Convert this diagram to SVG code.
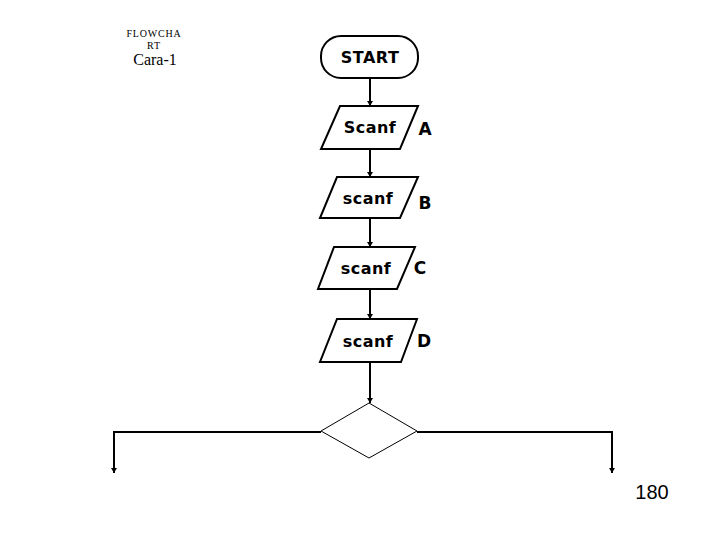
<svg xmlns="http://www.w3.org/2000/svg" width="720" height="540" viewBox="0 0 720 540">
<defs>
<style>
.shape{fill:#fff;stroke:#000;stroke-width:2}
.dia{fill:#fff;stroke:#000;stroke-width:1}
.conn{fill:none;stroke:#000;stroke-width:2}
.lbl{font-family:"DejaVu Sans",sans-serif;font-weight:bold;font-size:16px;fill:#000;text-anchor:middle;dominant-baseline:central;letter-spacing:0.5px}
.side{font-family:"DejaVu Sans",sans-serif;font-weight:bold;font-size:17px;fill:#000;text-anchor:middle;dominant-baseline:central}
.serif{font-family:"Liberation Serif",serif;fill:#000;text-anchor:middle}
</style>
<marker id="arr" markerWidth="6" markerHeight="6" refX="5" refY="3" orient="auto" markerUnits="userSpaceOnUse">
<path d="M0,0 L5,3 L0,6 z" fill="#000"/>
</marker>
</defs>
<rect width="720" height="540" fill="#fff"/>
<g id="title">
<text class="serif" x="154" y="37" font-size="10" letter-spacing="0.8">FLOWCHA</text>
<text class="serif" x="154" y="49" font-size="10" letter-spacing="0.8">RT</text>
<text class="serif" x="155" y="65" font-size="16">Cara-1</text>
</g>
<g id="connectors">
<line class="conn" x1="370" y1="78" x2="370" y2="106" marker-end="url(#arr)"/>
<line class="conn" x1="370" y1="149" x2="370" y2="177" marker-end="url(#arr)"/>
<line class="conn" x1="370" y1="218" x2="370" y2="247" marker-end="url(#arr)"/>
<line class="conn" x1="370" y1="289" x2="370" y2="319" marker-end="url(#arr)"/>
<line class="conn" x1="370" y1="362" x2="370" y2="403" marker-end="url(#arr)"/>
<polyline class="conn" points="321,432 114,432 114,473" marker-end="url(#arr)"/>
<polyline class="conn" points="417,432 612,432 612,473" marker-end="url(#arr)"/>
</g>
<g id="start">
<rect class="shape" x="321" y="36" width="97" height="42" rx="20" ry="20"/>
<text class="lbl" x="370" y="57" font-size="18">START</text>
</g>
<g id="scanfA">
<polygon class="shape" points="340,106 418,106 400,149 321,149"/>
<text class="lbl" x="370" y="127">Scanf</text>
<text class="side" x="425" y="129">A</text>
</g>
<g id="scanfB">
<polygon class="shape" points="337,177 418,177 400,218 320,218"/>
<text class="lbl" x="368" y="198">scanf</text>
<text class="side" x="425" y="203">B</text>
</g>
<g id="scanfC">
<polygon class="shape" points="334,247 415,247 397,289 318,289"/>
<text class="lbl" x="366" y="268">scanf</text>
<text class="side" x="420" y="268">C</text>
</g>
<g id="scanfD">
<polygon class="shape" points="337,319 417,319 401,362 320,362"/>
<text class="lbl" x="368" y="341">scanf</text>
<text class="side" x="424" y="341">D</text>
</g>
<g id="decision">
<polygon class="dia" points="369,403 417,431 369,458 321,431"/>
</g>
<g id="page">
<text x="652" y="499" font-family="Liberation Sans, sans-serif" font-size="20" text-anchor="middle" fill="#000">180</text>
</g>
</svg>
